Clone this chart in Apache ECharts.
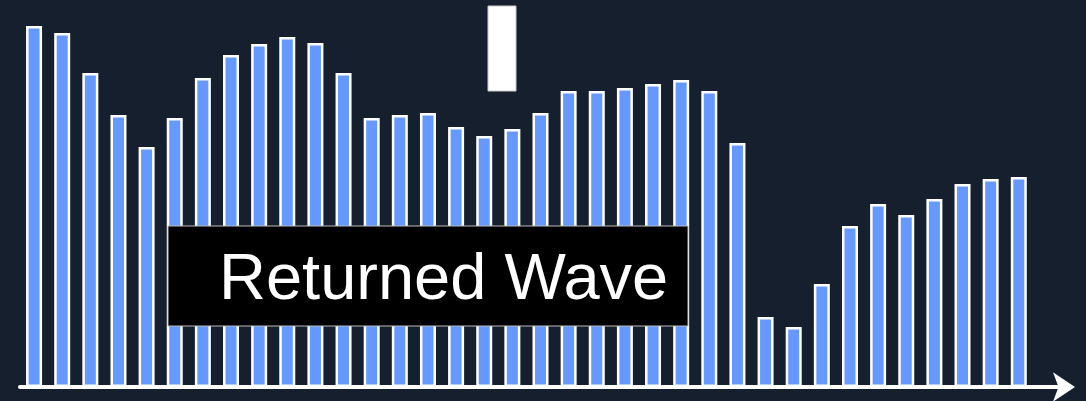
<!DOCTYPE html>
<html>
<head>
<meta charset="utf-8">
<script src="https://cdn.jsdelivr.net/npm/echarts@6/dist/echarts.min.js"></script>
<style>
  html, body { margin: 0; padding: 0; background: #161f2d; }
  #chart { width: 1086px; height: 401px; }
</style>
</head>
<body>
<div id="chart"></div>
<script>
// wave samples (px above baseline)
const categories = ['1','2','3','4','5','6','7','8','9','10','11','12','13','14','15','16','17','18',
  '19','20','21','22','23','24','25','26','27','28','29','30','31','32','33','34','35','36',''];
const waveValues = [361,354,314,272,240,269,309,332,343,350,344,314,269,272,274,260,251,258,
  274,296,296,299,303,307,296,244,70,60,103,161,183,172,188,203,208,210];
const labelText = 'Returned Wave';

const chart = echarts.init(document.getElementById('chart'), null, { renderer: 'canvas' });

const option = {
    backgroundColor: '#161f2d',
    animation: false,
    grid: {
        left: 20,
        right: 25,
        top: 0,
        bottom: 14
    },
    xAxis: {
        type: 'category',
        data: categories,
        axisTick: { show: false },
        axisLabel: { show: false },
        axisLine: {
            show: true,
            symbol: ['none', 'arrow'],
            symbolSize: [22, 22],
            symbolOffset: [0, 14],
            lineStyle: { color: '#ffffff', width: 4 }
        }
    },
    yAxis: {
        type: 'value',
        show: false,
        min: 0,
        max: 387,
        splitLine: { show: false }
    },
    series: [{
        type: 'bar',
        data: waveValues,
        barWidth: 16,
        itemStyle: {
            color: '#6699ff',
            borderColor: '#ffffff',
            borderWidth: 2.5
        }
    }],
    graphic: [
        {
            type: 'rect',
            z: 100,
            shape: { x: 488, y: 6, width: 28, height: 85 },
            style: { fill: '#ffffff', stroke: '#c8c8c8', lineWidth: 1 }
        },
        {
            type: 'rect',
            z: 100,
            shape: { x: 168, y: 226, width: 520, height: 100 },
            style: { fill: '#000000', stroke: '#bbbbbb', lineWidth: 1 }
        },
        {
            type: 'text',
            z: 101,
            x: 219,
            y: 314,
            style: {
                text: labelText,
                fill: '#ffffff',
                font: '65px "Liberation Sans", Arial, sans-serif',
                verticalAlign: 'bottom'
            }
        }
    ]
};

chart.setOption(option);
</script>
</body>
</html>
